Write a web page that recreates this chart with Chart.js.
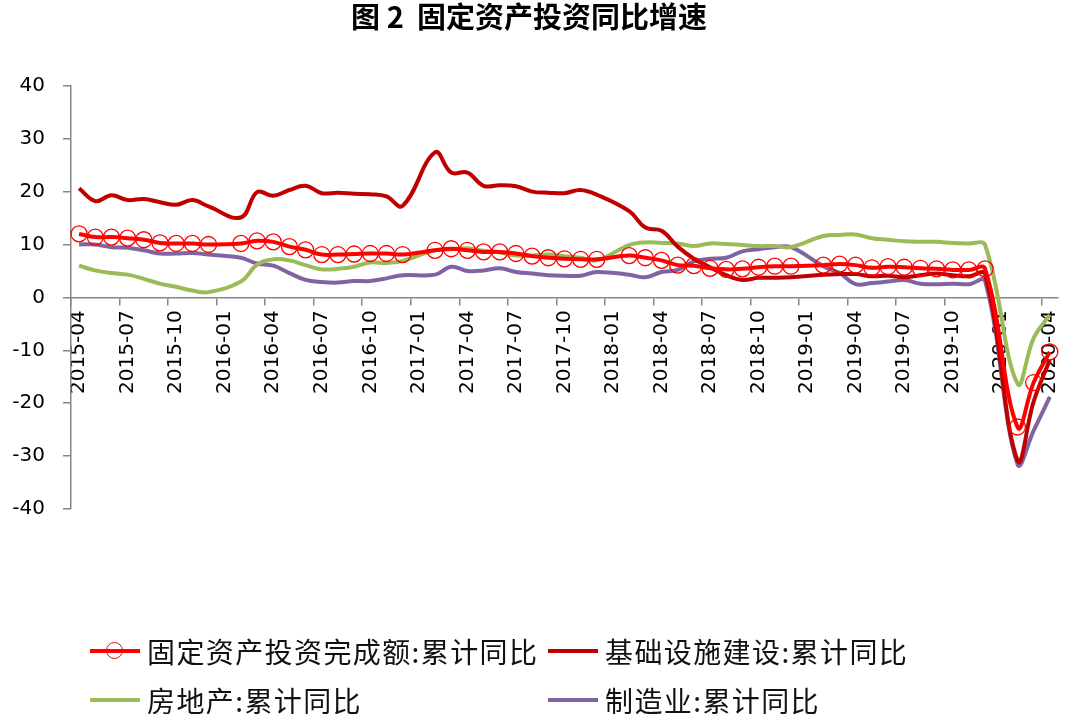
<!DOCTYPE html>
<html lang="zh">
<head>
<meta charset="utf-8">
<title>固定资产投资同比增速</title>
<script src="https://cdn.jsdelivr.net/npm/chart.js@4.4.1/dist/chart.umd.min.js"></script>
<style>
    body { margin: 0; background: #fff; }
    #contenedor { position: relative; width: 1080px; height: 714px; }
    #leyenda {
        position: absolute; left: 90px; top: 626px;
        display: grid; grid-template-columns: 458px auto;
        font-family: "Noto Sans CJK SC", sans-serif; font-size: 28px; letter-spacing: 1.4px; color: #111;
    }
    .item { display: flex; align-items: center; height: 49px; }
    .muestra { position: relative; width: 50px; height: 4px; margin-right: 7px; }
    .circulo { position: absolute; left: 16px; top: -7px; width: 15px; height: 15px; border: 1.5px solid #ff0000; border-radius: 50%; }
</style>
</head>
<body>
<div id="contenedor">
    <canvas id="lineChart" width="1080" height="714"></canvas>
    <div id="leyenda"></div>
</div>
<script>
// Meses (enero no se publica, queda vacío)
const meses = [
    "2015-04", "2015-05", "2015-06", "2015-07", "2015-08", "2015-09", "2015-10", "2015-11", "2015-12",
    "2016-01", "2016-02", "2016-03", "2016-04", "2016-05", "2016-06", "2016-07", "2016-08", "2016-09", "2016-10", "2016-11", "2016-12",
    "2017-01", "2017-02", "2017-03", "2017-04", "2017-05", "2017-06", "2017-07", "2017-08", "2017-09", "2017-10", "2017-11", "2017-12",
    "2018-01", "2018-02", "2018-03", "2018-04", "2018-05", "2018-06", "2018-07", "2018-08", "2018-09", "2018-10", "2018-11", "2018-12",
    "2019-01", "2019-02", "2019-03", "2019-04", "2019-05", "2019-06", "2019-07", "2019-08", "2019-09", "2019-10", "2019-11", "2019-12",
    "2020-01", "2020-02", "2020-03", "2020-04"
];

// Series (累计同比, %)
const inversionTotal = [
    12.0, 11.4, 11.4, 11.2, 10.9, 10.3, 10.2, 10.2, 10.0,
    null, 10.2, 10.7, 10.5, 9.6, 9.0, 8.1, 8.1, 8.2, 8.3, 8.3, 8.1,
    null, 8.9, 9.2, 8.9, 8.6, 8.6, 8.3, 7.8, 7.5, 7.3, 7.2, 7.2,
    null, 7.9, 7.5, 7.0, 6.1, 6.0, 5.5, 5.3, 5.4, 5.7, 5.9, 5.9,
    null, 6.1, 6.3, 6.1, 5.6, 5.8, 5.7, 5.5, 5.4, 5.2, 5.2, 5.4,
    null, -24.5, -16.1, -10.3
];
const infraestructura = [
    20.6, 18.2, 19.3, 18.4, 18.6, 18.0, 17.5, 18.4, 17.2,
    null, 15.1, 19.9, 19.2, 20.3, 21.1, 19.7, 19.8, 19.6, 19.5, 19.1, 17.3,
    null, 27.4, 23.6, 23.6, 21.1, 21.2, 21.0, 20.0, 19.8, 19.7, 20.3, 19.4,
    null, 16.3, 13.2, 12.6, 9.6, 7.3, 5.7, 4.2, 3.3, 3.7, 3.7, 3.8,
    null, 4.3, 4.4, 4.4, 4.0, 4.1, 3.8, 4.2, 4.5, 4.2, 4.0, 4.4,
    null, -30.8, -19.7, -11.8
];
const inmobiliario = [
    6.0, 5.1, 4.6, 4.3, 3.5, 2.6, 2.0, 1.3, 1.0,
    null, 3.0, 6.2, 7.2, 7.0, 6.1, 5.3, 5.4, 5.8, 6.6, 6.5, 6.9,
    null, 8.9, 9.1, 9.3, 8.8, 8.5, 7.9, 7.9, 8.1, 7.8, 7.5, 7.0,
    null, 9.9, 10.4, 10.3, 10.2, 9.7, 10.2, 10.1, 9.9, 9.7, 9.7, 9.5,
    null, 11.6, 11.8, 11.9, 11.2, 10.9, 10.6, 10.5, 10.5, 10.3, 10.2, 9.9,
    null, -16.3, -7.7, -3.3
];
const manufactura = [
    10.0, 10.0, 9.5, 9.4, 8.9, 8.3, 8.3, 8.4, 8.1,
    null, 7.5, 6.4, 6.0, 4.6, 3.3, 2.9, 2.8, 3.1, 3.1, 3.6, 4.2,
    null, 4.3, 5.8, 5.0, 5.1, 5.5, 4.8, 4.5, 4.2, 4.1, 4.1, 4.8,
    null, 4.3, 3.8, 4.8, 5.2, 6.8, 7.3, 7.5, 8.7, 9.1, 9.5, 9.5,
    null, 5.9, 4.6, 2.5, 2.7, 3.0, 3.3, 2.6, 2.5, 2.6, 2.5, 3.1,
    null, -31.5, -25.2, -18.8
];

// Nombres y colores de las series
const nombres = ["固定资产投资完成额:累计同比", "基础设施建设:累计同比", "房地产:累计同比", "制造业:累计同比"];
const colores = ["#ff0000", "#c00000", "#9bbb59", "#8064a2"];
const ejeY = [-40, -30, -20, -10, 0, 10, 20, 30, 40];

document.addEventListener('DOMContentLoaded', function () {
    const gris = '#868686';
    const fuenteEje = { family: "'DejaVu Sans', Verdana, sans-serif", size: 20 };

    const series = [inversionTotal, infraestructura, inmobiliario, manufactura];
    const datasets = series.map((datos, i) => ({
        label: nombres[i],
        data: datos,
        borderColor: colores[i],
        backgroundColor: colores[i],
        borderWidth: 4,
        tension: 0.4,
        spanGaps: true,
        pointRadius: i === 0 ? 8 : 0,
        pointBorderWidth: 1.3,
        pointBorderColor: colores[i],
        pointBackgroundColor: 'rgba(0,0,0,0)',
        clip: false
    }));

    const ctx = document.getElementById('lineChart').getContext('2d');
    const linechart = new Chart(ctx, {
        type: 'line',
        data: { labels: meses, datasets: datasets },
        options: {
            responsive: false,
            animation: false,
            events: [],
            layout: { padding: { left: 0, right: 22, top: 0, bottom: 205 } },
            plugins: {
                legend: { display: false },
                tooltip: { enabled: false },
                title: {
                    display: true,
                    text: '图 2  固定资产投资同比增速',
                    color: '#000',
                    font: { family: "'Noto Sans CJK SC', sans-serif", size: 29, weight: 'bold' },
                    padding: { top: 0, bottom: 51 }
                }
            },
            scales: {
                x: {
                    position: { y: 0 },
                    offset: true,
                    grid: {
                        offset: true,
                        drawOnChartArea: false,
                        tickLength: 7,
                        lineWidth: 1.5,
                        color: c => (c.index % 3 === 0 ? gris : 'rgba(0,0,0,0)')
                    },
                    border: { color: gris, width: 1.5 },
                    ticks: {
                        autoSkip: false,
                        minRotation: 90,
                        maxRotation: 90,
                        padding: 6,
                        color: '#000',
                        font: fuenteEje,
                        callback: function (valor, i) {
                            return i % 3 === 0 ? this.getLabelForValue(valor) : '';
                        }
                    },
                    afterFit: eje => { eje.height = 0; }
                },
                y: {
                    min: -40,
                    max: 40,
                    afterBuildTicks: eje => { eje.ticks = ejeY.map(v => ({ value: v })); },
                    grid: { drawOnChartArea: false, tickLength: 8, lineWidth: 1.5, color: gris },
                    border: { color: gris, width: 1.5 },
                    ticks: { padding: 18, color: '#000', font: fuenteEje },
                    afterFit: eje => { eje.width = 71; }
                }
            }
        }
    });

    // Leyenda en dos columnas
    const leyenda = document.getElementById('leyenda');
    nombres.forEach((nombre, i) => {
        const item = document.createElement('div');
        item.className = 'item';
        const muestra = document.createElement('span');
        muestra.className = 'muestra';
        muestra.style.background = colores[i];
        if (i === 0) {
            const circulo = document.createElement('span');
            circulo.className = 'circulo';
            muestra.appendChild(circulo);
        }
        const texto = document.createElement('span');
        texto.textContent = nombre;
        item.appendChild(muestra);
        item.appendChild(texto);
        leyenda.appendChild(item);
    });
});
</script>
</body>
</html>
